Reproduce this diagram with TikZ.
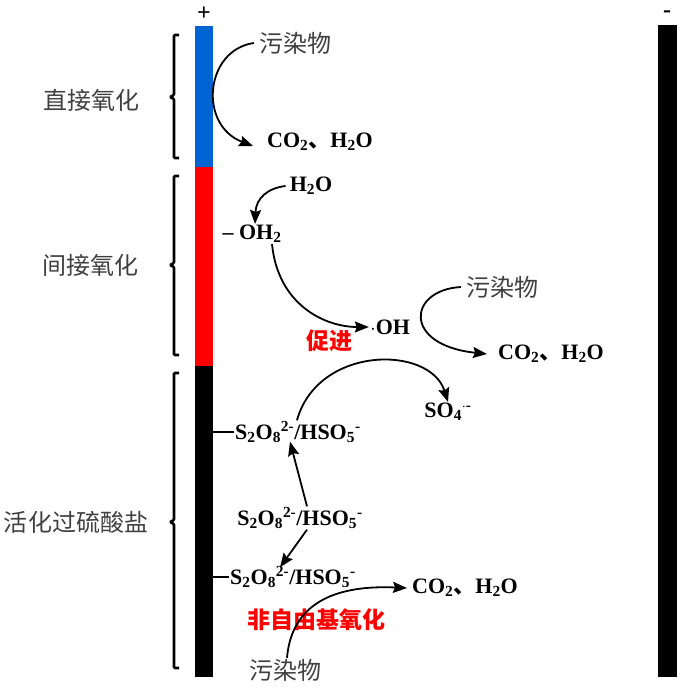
\documentclass[tikz,border=0pt]{standalone}
\usepackage{fontspec}
\setmainfont{Liberation Serif}
\newfontfamily\cjk{Noto Sans CJK SC}
\usetikzlibrary{arrows.meta,positioning}
\definecolor{myblue}{RGB}{0,100,210}
\definecolor{myred}{RGB}{255,0,0}
\newcommand{\prodtxt}{CO\textsubscript{2}{\cjk 、}H\textsubscript{2}O}
\newcommand{\pstxt}{S\textsubscript{2}O\textsubscript{8}\textsuperscript{2-}/HSO\textsubscript{5}\textsuperscript{-}}
\begin{document}
\begin{tikzpicture}[x=1pt,y=-1pt,
  arr/.style={-{Stealth[length=14pt,width=11pt,inset=2pt]},line width=1.8pt},
  brack/.style={line width=2.6pt,rounded corners=1pt},
  bar/.style={inner sep=0pt,minimum width=18pt,draw=none},
  cn/.style={font=\cjk\fontsize{24}{28}\selectfont,text=black!75,inner sep=1pt},
  rn/.style={font=\cjk\bfseries\fontsize{23}{26}\selectfont,text=myred,inner sep=1pt},
  chem/.style={font=\bfseries\fontsize{22}{26}\selectfont,inner sep=1pt}]

  \useasboundingbox (0,0) rectangle (700,687);

  % electrodes
  \node[bar,fill=myblue,minimum height=141pt] (bar1) at (204,96.5) {};
  \node[bar,fill=myred,minimum height=199pt] (bar2) at (204,266.5) {};
  \node[bar,fill=black,minimum height=311pt] (bar3) at (204,521.5) {};
  \node[bar,fill=black,minimum width=19pt,minimum height=652pt] (cath) at (667.5,351) {};
  \node[font=\bfseries\fontsize{24}{26}\selectfont,inner sep=0pt] (plus) at (204,14) {+};
  \node[font=\bfseries\fontsize{24}{26}\selectfont,inner sep=0pt] (minus) at (667,14) {-};

  % brackets and labels
  \draw[brack] (179,35) -| (174,95) -- (170,97) -- (174,99) |- (179,158);
  \draw[brack] (179,176) -| (174,263) -- (170,265) -- (174,267) |- (179,355);
  \draw[brack] (179,373) -| (174,520) -- (170,522) -- (174,524) |- (179,668);
  \node[cn] (lab1) at (91,100) {直接氧化};
  \node[cn] (lab2) at (90,265) {间接氧化};
  \node[cn] (lab3) at (76,522) {活化过硫酸盐};

  % direct oxidation
  \node[cn] (pol1) at (295,43) {污染物};
  \node[chem] (prod1) at (320,142) {\prodtxt};
  \draw[arr] ([xshift=-4pt]pol1.west) .. controls (205,50) and (198,125) .. ([xshift=-13pt,yshift=-4pt]prod1.west);

  % indirect oxidation
  \node[chem] (h2o) at (311,186) {H\textsubscript{2}O};
  \node[chem] (oh2) at (252,234) {\textendash\ OH\textsubscript{2}};
  \node[chem] (oh) at (390,327) {$\cdot$OH};
  \node[rn] (cuj) at (329,341) {促进};
  \node[cn] (pol2) at (502,287) {污染物};
  \node[chem] (prod2) at (551,354) {\prodtxt};
  \draw[arr] ([xshift=-3pt]h2o.west) .. controls (268,188) and (256,198) .. ([xshift=3pt]oh2.north);
  \draw[arr] ([xshift=20pt]oh2.south) .. controls (278,305) and (325,327) .. (oh.west);
  \draw[arr] ([xshift=-4pt]pol2.west) .. controls (408,290) and (402,345) .. ([xshift=-10pt]prod2.west);

  % persulfate activation
  \node[chem,anchor=west] (ps1) at (234,432) {\pstxt};
  \node[chem] (so4) at (448,412) {SO\textsubscript{4}\textsuperscript{$\cdot$-}};
  \node[chem] (ps2) at (300,518) {\pstxt};
  \node[chem,anchor=west] (ps3) at (229,577) {\pstxt};
  \node[chem] (prod3) at (465,588) {\prodtxt};
  \node[rn] (fzy) at (316,620) {非自由基氧化};
  \node[cn] (pol3) at (285,670) {污染物};
  \draw[line width=1.8pt] (ps1.west -| bar3.east) -- (ps1.west);
  \draw[line width=1.8pt] (ps3.west -| bar3.east) -- (ps3.west);
  \draw[arr] ([xshift=-1pt]ps1.north) .. controls (318,345) and (430,345) .. (so4.north);
  \draw[arr] ([xshift=7pt]ps2.north) -- ([xshift=-10pt,yshift=2pt]ps2.north |- ps1.south);
  \draw[arr] ([xshift=7pt]ps2.south) -- ([xshift=-20pt,yshift=-2pt]ps2.south |- ps3.north);
  \draw[arr] ([xshift=2pt]pol3.north) .. controls (292,600) and (340,585) .. ([xshift=-4pt]prod3.west);

\end{tikzpicture}
\end{document}
